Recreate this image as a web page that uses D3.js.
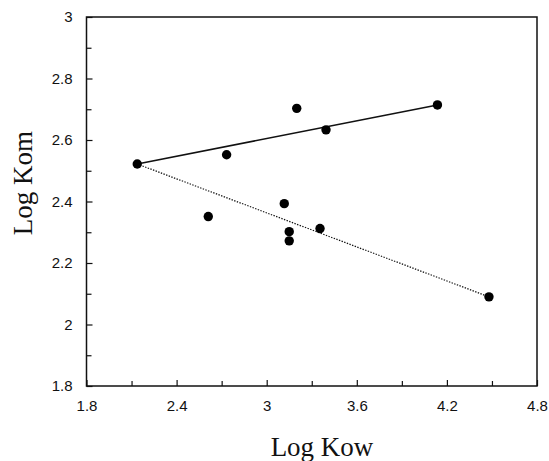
<!DOCTYPE html>
<html>
<head>
<meta charset="utf-8">
<script src="https://cdn.jsdelivr.net/npm/d3@7"></script>
<style>
  html, body { margin: 0; padding: 0; background: #fff; }
  svg { display: block; }
</style>
</head>
<body>
<svg id="chart" width="549" height="461"></svg>
<script>
// ---- data ----
const logKow = [2.138, 2.733, 2.611, 3.117, 3.150, 3.150, 3.355, 3.200, 3.395, 4.137, 4.480];
const logKom = [2.522, 2.552, 2.351, 2.393, 2.302, 2.272, 2.312, 2.703, 2.633, 2.714, 2.090];
const solidLineX = [2.138, 4.137];
const solidLineY = [2.522, 2.714];
const dottedLineX = [2.138, 4.480];
const dottedLineY = [2.522, 2.090];
const xTicks = [1.8, 2.4, 3.0, 3.6, 4.2, 4.8];
const xTickLabels = ["1.8", "2.4", "3", "3.6", "4.2", "4.8"];
const xMinorTicks = [2.1, 2.7, 3.3, 3.9, 4.5];
const yTicks = [1.8, 2.0, 2.2, 2.4, 2.6, 2.8, 3.0];
const yTickLabels = ["1.8", "2", "2.2", "2.4", "2.6", "2.8", "3"];
const yMinorTicks = [1.9, 2.1, 2.3, 2.5, 2.7, 2.9];
const xTitle = "Log Kow";
const yTitle = "Log Kom";

// ---- layout ----
const plotLeft = 86.5, plotRight = 537, plotTop = 17, plotBottom = 386;
const svg = d3.select("#chart");
const x = d3.scaleLinear().domain([1.8, 4.8]).range([plotLeft, plotRight]);
const y = d3.scaleLinear().domain([1.8, 3.0]).range([plotBottom, plotTop]);

const ink = "#111";

// frame
svg.append("rect")
  .attr("x", plotLeft).attr("y", plotTop)
  .attr("width", plotRight - plotLeft).attr("height", plotBottom - plotTop)
  .attr("fill", "none").attr("stroke", ink).attr("stroke-width", 1.5);

// x axis
const xAxis = d3.axisBottom(x).tickValues(xTicks)
  .tickFormat((d, i) => xTickLabels[i]).tickSizeInner(-6).tickSizeOuter(0).tickPadding(14);
const gx = svg.append("g").attr("transform", `translate(0,${plotBottom})`).call(xAxis);
gx.select(".domain").remove();
gx.selectAll(".tick line").attr("stroke", ink).attr("stroke-width", 1.2);
gx.selectAll(".tick text").attr("font-family", "Liberation Sans, Arial, sans-serif")
  .attr("font-size", 15).attr("fill", ink);
const gxm = svg.append("g").attr("transform", `translate(0,${plotBottom})`)
  .call(d3.axisBottom(x).tickValues(xMinorTicks).tickFormat("").tickSizeInner(-5).tickSizeOuter(0));
gxm.select(".domain").remove();
gxm.selectAll(".tick line").attr("stroke", ink).attr("stroke-width", 1.2);

// y axis
const yAxis = d3.axisLeft(y).tickValues(yTicks)
  .tickFormat((d, i) => yTickLabels[i]).tickSizeInner(-6).tickSizeOuter(0).tickPadding(14);
const gy = svg.append("g").attr("transform", `translate(${plotLeft},0)`).call(yAxis);
gy.select(".domain").remove();
gy.selectAll(".tick line").attr("stroke", ink).attr("stroke-width", 1.2);
gy.selectAll(".tick text").attr("font-family", "Liberation Sans, Arial, sans-serif")
  .attr("font-size", 15).attr("fill", ink);
const gym = svg.append("g").attr("transform", `translate(${plotLeft},0)`)
  .call(d3.axisLeft(y).tickValues(yMinorTicks).tickFormat("").tickSizeInner(-5).tickSizeOuter(0));
gym.select(".domain").remove();
gym.selectAll(".tick line").attr("stroke", ink).attr("stroke-width", 1.2);

// lines
const line = d3.line().x(d => x(d[0])).y(d => y(d[1]));
svg.append("path")
  .datum(solidLineX.map((v, i) => [v, solidLineY[i]]))
  .attr("d", line).attr("fill", "none").attr("stroke", ink).attr("stroke-width", 1.6);
svg.append("path")
  .datum(dottedLineX.map((v, i) => [v, dottedLineY[i]]))
  .attr("d", line).attr("fill", "none").attr("stroke", ink)
  .attr("stroke-width", 1.2).attr("stroke-dasharray", "1.4,1.4");

// points
svg.append("g").selectAll("circle")
  .data(logKow.map((v, i) => [v, logKom[i]]))
  .join("circle")
  .attr("cx", d => x(d[0])).attr("cy", d => y(d[1]))
  .attr("r", 4.7).attr("fill", "#000");

// titles
svg.append("text")
  .attr("x", 322).attr("y", 456)
  .attr("text-anchor", "middle")
  .attr("font-family", "Liberation Serif, Times New Roman, serif")
  .attr("font-size", 27).attr("fill", ink)
  .text(xTitle);
svg.append("text")
  .attr("transform", "translate(32,183) rotate(-90)")
  .attr("text-anchor", "middle")
  .attr("font-family", "Liberation Serif, Times New Roman, serif")
  .attr("font-size", 27).attr("fill", ink)
  .text(yTitle);
</script>
</body>
</html>
